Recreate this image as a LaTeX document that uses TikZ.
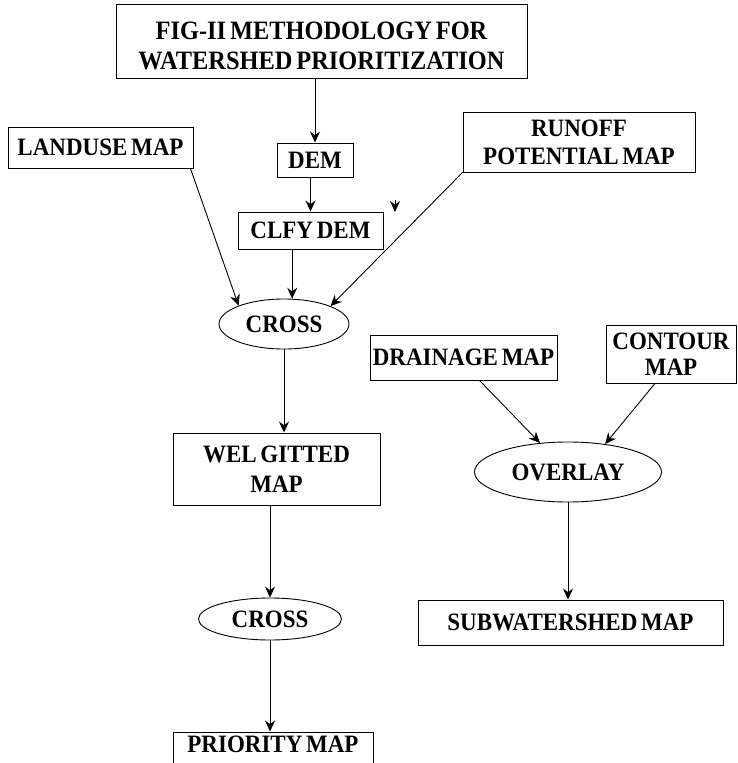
\documentclass[tikz,border=0pt]{standalone}
\usepackage{fontspec}
\setmainfont[FakeStretch=0.92,WordSpace=0.65]{Liberation Serif}
\usetikzlibrary{arrows.meta,shapes.geometric,calc}
\tikzset{
  box/.style={draw, line width=0.9pt, rectangle, inner sep=0pt, align=center,
    font=\fontsize{25}{28}\selectfont\bfseries},
  oval/.style={draw, line width=0.9pt, ellipse, inner sep=0pt, align=center,
    font=\fontsize{25}{28}\selectfont\bfseries},
  link/.style={line width=0.9pt, -{Stealth[length=11pt,width=10pt]}},
}
\begin{document}
\begin{tikzpicture}[x=1pt,y=-1pt]
\useasboundingbox (0,0) rectangle (738,763);
\clip (0,0) rectangle (738,763);
% nodes
\node[box, minimum width=411pt, minimum height=74pt, font=\fontsize{26.5}{30}\selectfont\bfseries] (title) at (321.5,41) {\rule{0pt}{27pt}FIG-II METHODOLOGY FOR\\WATERSHED PRIORITIZATION};
\node[box, minimum width=76pt, minimum height=34pt] (dem) at (315,160) {DEM};
\node[box, minimum width=145pt, minimum height=37pt] (clfy) at (310.5,230.5) {CLFY DEM};
\node[box, minimum width=185pt, minimum height=41pt] (landuse) at (100.5,147.5) {LANDUSE MAP};
\node[box, minimum width=232pt, minimum height=60pt] (runoff) at (579,142) {RUNOFF\\POTENTIAL MAP};
\node[oval, minimum width=130pt, minimum height=50pt] (cross1) at (284,324) {CROSS};
\node[box, minimum width=207pt, minimum height=72pt, font=\fontsize{25}{30}\selectfont\bfseries] (wel) at (276.5,469) {WEL GITTED\\MAP};
\node[oval, minimum width=143pt, minimum height=42pt] (cross2) at (270,619) {CROSS};
\node[box, minimum width=200pt, minimum height=40pt, text depth=16pt] (priority) at (273,752) {PRIORITY MAP};
\node[box, minimum width=187pt, minimum height=45pt] (drainage) at (463.5,357.5) {DRAINAGE MAP};
\node[box, minimum width=130pt, minimum height=58pt, font=\fontsize{25}{26}\selectfont\bfseries] (contour) at (671,354) {CONTOUR\\MAP};
\node[oval, minimum width=187pt, minimum height=60pt] (overlay) at (568,472) {OVERLAY};
\node[box, minimum width=305pt, minimum height=45pt] (subw) at (570.5,622.5) {SUBWATERSHED MAP};
% connectors
\draw[link] (dem.north |- title.south) -- (dem.north);
\draw[link] (clfy.north |- dem.south) -- (clfy.north);
\draw[link] ($(landuse.south east)+(-3,0)$) -- (cross1.158);
\draw[link] (cross1.72 |- clfy.south) -- (cross1.72);
\draw[link] (runoff.south west) -- (cross1.21);
\draw[link] (cross1.south) -- (cross1.south |- wel.north);
\draw[link] (cross2.north |- wel.south) -- (cross2.north);
\draw[link] (cross2.south) -- (cross2.south |- priority.north);
\draw[link] ($(drainage.south)+(16,0)$) -- (overlay.134);
\draw[link] ($(contour.south)+(-16,0)$) -- (overlay.37);
\draw[link] (overlay.south) -- (overlay.south |- subw.north);
% stray arrow tip beside CLFY DEM
\coordinate (stray) at (395,212);
\draw[link] ($(stray)+(0,-12)$) -- (stray);
\end{tikzpicture}
\end{document}
